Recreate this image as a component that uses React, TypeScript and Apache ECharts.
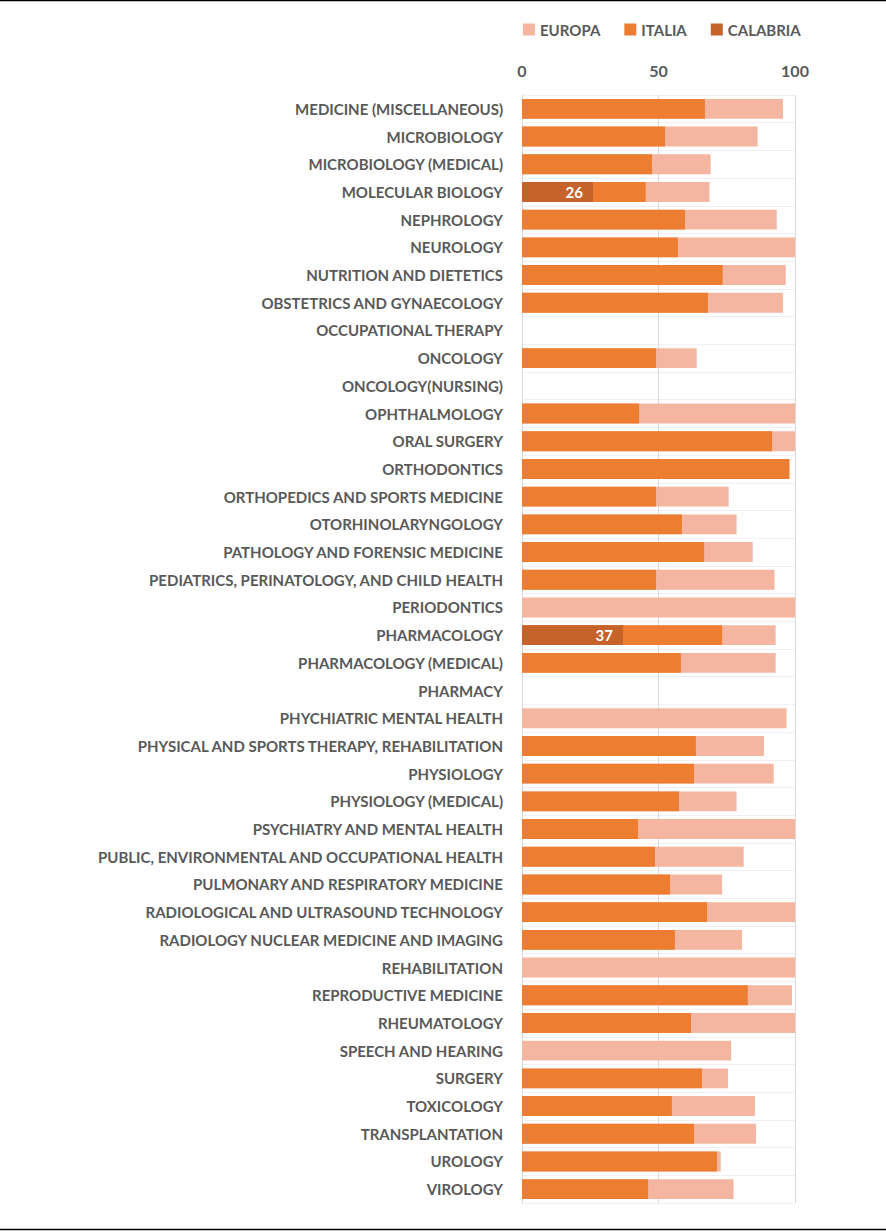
import React, { useEffect, useRef } from "react";
import * as echarts from "echarts";

const categories = [
  "Medicine (miscellaneous)",
  "Microbiology",
  "Microbiology (medical)",
  "Molecular Biology",
  "Nephrology",
  "Neurology",
  "Nutrition and Dietetics",
  "Obstetrics and Gynaecology",
  "Occupational Therapy",
  "Oncology",
  "Oncology(nursing)",
  "Ophthalmology",
  "Oral Surgery",
  "Orthodontics",
  "Orthopedics and Sports Medicine",
  "Otorhinolaryngology",
  "Pathology and Forensic Medicine",
  "Pediatrics, Perinatology, and Child Health",
  "Periodontics",
  "Pharmacology",
  "Pharmacology (medical)",
  "Pharmacy",
  "Phychiatric Mental Health",
  "Physical and Sports Therapy, Rehabilitation",
  "Physiology",
  "Physiology (medical)",
  "Psychiatry and Mental health",
  "Public, Environmental and Occupational Health",
  "Pulmonary and Respiratory Medicine",
  "Radiological and Ultrasound Technology",
  "Radiology Nuclear Medicine and imaging",
  "Rehabilitation",
  "Reproductive Medicine",
  "Rheumatology",
  "Speech and Hearing",
  "Surgery",
  "Toxicology",
  "Transplantation",
  "Urology",
  "Virology",
];

const europa = [
  95.6, 86.3, 69.1, 68.7, 93.3, 100, 96.6, 95.6, null, 64.0,
  null, 100, 100, null, 75.7, 78.6, 84.5, 92.5, 100, 92.9,
  92.9, null, 96.9, 88.6, 92.2, 78.6, 100, 81.2, 73.3, 100,
  80.6, 100, 98.9, 100, 76.6, 75.5, 85.3, 85.7, 72.8, 77.5,
];

const italia = [
  67.0, 52.4, 47.6, 45.3, 59.7, 57.1, 73.5, 68.1, null, 49.1,
  null, 42.9, 91.6, 98.0, 49.1, 58.6, 66.7, 49.1, null, 73.3,
  58.2, null, null, 63.7, 63.0, 57.5, 42.5, 48.7, 54.2, 67.8,
  56.0, null, 82.7, 61.9, null, 65.9, 54.9, 63.0, 71.4, 46.2,
];

const calabria = [
  null, null, null, 26, null, null, null, null, null, null,
  null, null, null, null, null, null, null, null, null, 37,
  null, null, null, null, null, null, null, null, null, null,
  null, null, null, null, null, null, null, null, null, null,
];

const xTicks = [0, 50, 100];

const FONT = "Lato";
const GRAY = "#595959";

export default function App() {
  const ref = useRef<HTMLDivElement>(null);

  useEffect(() => {
    document.body.style.margin = "0";
    if (!ref.current) return;
    const chart = echarts.init(ref.current, null, { renderer: "svg" });
    const minorCats = Array.from({ length: categories.length * 2 }, (_, i) => String(i));
    chart.setOption({
      animation: false,
      textStyle: { fontFamily: FONT },
      legend: {
        left: 518,
        top: 17,
        itemWidth: 12,
        itemHeight: 12,
        itemGap: 24,
        icon: "rect",
        data: ["Europa", "Italia", "Calabria"],
        formatter: (n: string) => n.toUpperCase(),
        textStyle: { color: GRAY, fontSize: 15, fontWeight: "bold", fontFamily: FONT },
      },
      grid: { left: 522, right: 91, top: 95, bottom: 28, containLabel: false },
      xAxis: {
        type: "value",
        position: "top",
        min: xTicks[0],
        max: xTicks[xTicks.length - 1],
        interval: 50,
        axisLine: { show: false },
        axisTick: { show: false },
        axisLabel: { color: GRAY, fontSize: 16, fontWeight: "bold", fontFamily: FONT, margin: 17 },
        splitLine: { show: true, lineStyle: { color: "#d9d9d9", width: 1 } },
      },
      yAxis: [
        {
          type: "category",
          data: categories,
          inverse: true,
          axisLine: { show: true, lineStyle: { color: "#d9d9d9" } },
          axisTick: { show: false },
          axisLabel: {
            color: GRAY,
            fontSize: 15,
            fontWeight: "bold",
            fontFamily: FONT,
            margin: 19,
            formatter: (v: string) => v.toUpperCase(),
          },
          splitLine: { show: false },
        },
        {
          type: "category",
          data: minorCats,
          inverse: true,
          position: "left",
          axisLine: { show: false },
          axisTick: { show: false },
          axisLabel: { show: false },
          splitLine: { show: true, lineStyle: { color: "#eef0f3", width: 1 } },
        },
      ],
      series: [
        {
          name: "Europa",
          type: "bar",
          data: europa,
          barGap: "-100%",
          barCategoryGap: "28%",
          itemStyle: { color: "#F4B6A0" },
          z: 2,
        },
        {
          name: "Italia",
          type: "bar",
          data: italia,
          barGap: "-100%",
          barCategoryGap: "28%",
          itemStyle: { color: "#ED7D31" },
          z: 3,
        },
        {
          name: "Calabria",
          type: "bar",
          data: calabria,
          barGap: "-100%",
          barCategoryGap: "28%",
          itemStyle: { color: "#C5632A" },
          z: 4,
          label: {
            show: true,
            position: "insideRight",
            distance: 10,
            color: "#ffffff",
            fontSize: 15,
            fontWeight: "bold",
            fontFamily: FONT,
          },
        },
      ],
      graphic: [
        { type: "line", shape: { x1: 0, y1: 0.5, x2: 886, y2: 0.5 }, style: { stroke: "#000", lineWidth: 1.5 } },
        { type: "line", shape: { x1: 0, y1: 1229.5, x2: 886, y2: 1229.5 }, style: { stroke: "#000", lineWidth: 1.5 } },
      ],
    });
    return () => chart.dispose();
  }, []);

  return <div ref={ref} style={{ width: 886, height: 1231 }} />;
}
